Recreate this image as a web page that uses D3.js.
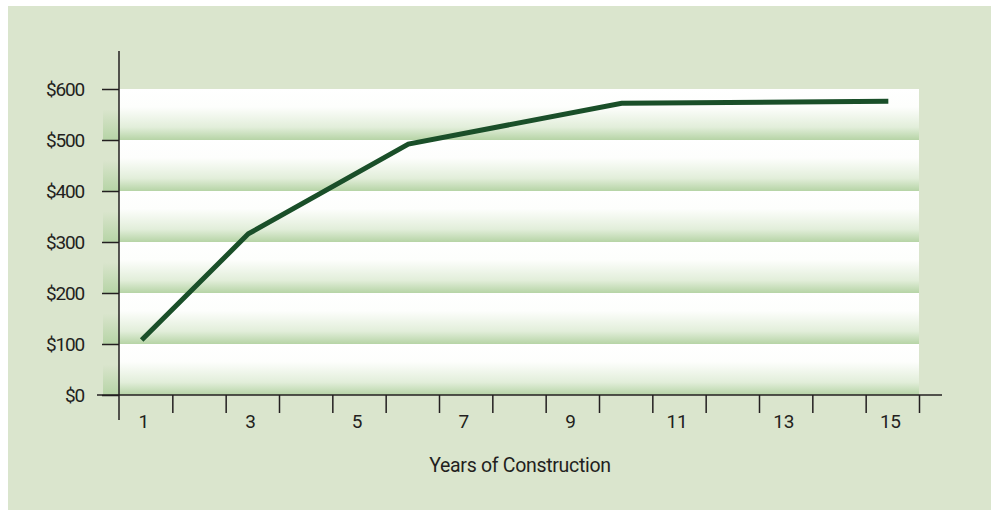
<!DOCTYPE html>
<html>
<head>
<meta charset="UTF-8">
<script src="https://cdn.jsdelivr.net/npm/d3@7"></script>
<style>
    body{ margin:0; padding:0; background:#fff; }
    text{ font-family:Roboto,"DejaVu Sans Condensed",sans-serif; fill:#231f20; letter-spacing:-0.3px; }
</style>
</head>
<body>
<script>
    // data
    var years = [1, 3, 6, 10, 15];
    var costs = [108, 316, 492, 572, 576];
    var yTicks = [0, 100, 200, 300, 400, 500, 600];
    var xLabels = [1, 3, 5, 7, 9, 11, 13, 15];
    var xTitle = "Years of Construction";

    var W = 993, H = 510;
    var svg = d3.select("body").append("svg").attr("width", W).attr("height", H);

    // panel
    svg.append("rect").attr("x", 8).attr("y", 6).attr("width", 983).attr("height", 504).attr("fill", "#dae5cd");

    var x = d3.scaleLinear().domain([0.5, 15.5]).range([119, 919]);
    var y = d3.scaleLinear().domain([0, 600]).range([395, 89]);

    var defs = svg.append("defs");
    var g1 = defs.append("linearGradient").attr("id", "band").attr("x1", 0).attr("y1", 0).attr("x2", 0).attr("y2", 1);
    g1.append("stop").attr("offset", "0%").attr("stop-color", "#ffffff");
    g1.append("stop").attr("offset", "35%").attr("stop-color", "#fdfefc");
    g1.append("stop").attr("offset", "75%").attr("stop-color", "#e2eeda");
    g1.append("stop").attr("offset", "100%").attr("stop-color", "#b6d4a6");
    var g2 = defs.append("linearGradient").attr("id", "side").attr("x1", 0).attr("y1", 0).attr("x2", 0).attr("y2", 1);
    g2.append("stop").attr("offset", "0%").attr("stop-color", "#dae5cd");
    g2.append("stop").attr("offset", "40%").attr("stop-color", "#dae5cd");
    g2.append("stop").attr("offset", "100%").attr("stop-color", "#b6d4a6");

    var bandVals = yTicks.slice(0, -1);
    svg.selectAll(".band").data(bandVals).enter().append("rect")
        .attr("class", "band")
        .attr("x", x(0.5)).attr("y", function(d){ return y(d + 100); })
        .attr("width", x(15.5) - x(0.5)).attr("height", function(d){ return y(d) - y(d + 100); })
        .attr("fill", "url(#band)");
    svg.selectAll(".side").data(bandVals).enter().append("rect")
        .attr("class", "side")
        .attr("x", x(0.5) - 16).attr("y", function(d){ return y(d + 100); })
        .attr("width", 16).attr("height", function(d){ return y(d) - y(d + 100); })
        .attr("fill", "url(#side)");

    // y axis
    var yAxis = d3.axisLeft(y).tickValues(yTicks).tickSize(17).tickPadding(18)
        .tickFormat(function(d){ return "$" + d; });
    var ga = svg.append("g").attr("transform", "translate(119,0)").call(yAxis);
    ga.select(".domain").remove();
    ga.selectAll("line").attr("stroke", "#231f20").attr("stroke-width", 1.5);
    ga.selectAll("text").style("font-size", "19px").style("letter-spacing", "-1.2px").attr("fill", "#231f20");
    ga.append("line").attr("x1", 0).attr("x2", 0).attr("y1", 51).attr("y2", 420)
        .attr("stroke", "#231f20").attr("stroke-width", 1.5);

    // x axis
    var bounds = d3.range(1, 16).map(function(i){ return i + 0.5; });
    var xAxis = d3.axisBottom(x).tickValues(bounds).tickSize(18).tickFormat("");
    var gx = svg.append("g").attr("transform", "translate(0,395)").call(xAxis);
    gx.select(".domain").remove();
    gx.selectAll("line").attr("stroke", "#231f20").attr("stroke-width", 1.5);
    gx.append("line").attr("x1", 97).attr("x2", 942).attr("y1", 0).attr("y2", 0)
        .attr("stroke", "#231f20").attr("stroke-width", 1.5);
    gx.selectAll(".xl").data(xLabels).enter().append("text")
        .attr("class", "xl")
        .attr("x", function(d){ return x(d) - 2; }).attr("y", 33)
        .attr("text-anchor", "middle").style("font-size", "19px")
        .text(function(d){ return d; });

    svg.append("text").attr("x", 520).attr("y", 472).attr("text-anchor", "middle")
        .style("font-size", "19.5px").text(xTitle);

    // line
    var line = d3.line().x(function(d, i){ return x(years[i]) - 4; }).y(function(d){ return y(d); });
    svg.append("path").datum(costs).attr("d", line)
        .attr("fill", "none").attr("stroke", "#1a4f29").attr("stroke-width", 5)
        .attr("stroke-linejoin", "miter");
</script>
</body>
</html>
